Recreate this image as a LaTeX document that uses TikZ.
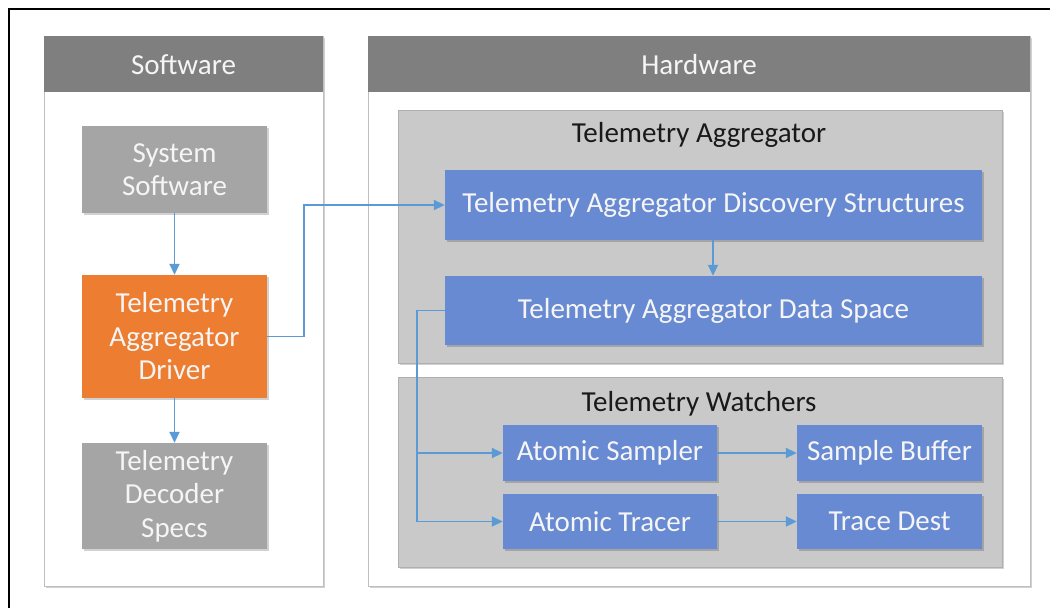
\documentclass[tikz,border=0pt]{standalone}
\usepackage{fontspec}
\setmainfont{Carlito}
\usetikzlibrary{arrows.meta,shadows,calc}
\definecolor{hdr}{RGB}{127,127,127}
\definecolor{pborder}{RGB}{191,191,191}
\definecolor{gbox}{RGB}{165,165,165}
\definecolor{obox}{RGB}{237,125,49}
\definecolor{cont}{RGB}{201,201,201}
\definecolor{contb}{RGB}{175,175,175}
\definecolor{bbox}{RGB}{104,138,210}
\definecolor{arrc}{RGB}{91,155,213}
\definecolor{boxtext}{RGB}{245,245,245}
\tikzset{
  shd/.style={drop shadow={shadow xshift=1.5pt,shadow yshift=-1.5pt,opacity=0.18,fill=black}},
  panel/.style={draw=pborder,fill=white,line width=0.8pt,shd},
  header/.style={fill=hdr},
  hdrtext/.style={text=boxtext,font=\fontsize{29}{33.5}\selectfont},
  conttext/.style={text=black!90,font=\fontsize{29}{33.5}\selectfont},
  container/.style={draw=contb,fill=cont,line width=0.6pt,shd},
  boxbase/.style={rectangle,inner sep=0pt,align=center,text=boxtext,font=\fontsize{29}{33.5}\selectfont,shd},
  graybox/.style={boxbase,fill=gbox},
  orangebox/.style={boxbase,fill=obox},
  bluebox/.style={boxbase,fill=bbox},
  conn/.style={draw=arrc,line width=1.8pt},
  arr/.style={conn,-{Triangle[length=11pt,width=10pt]}}
}
\begin{document}
\begin{tikzpicture}[x=1pt,y=-1pt]
\useasboundingbox[fill=white] (0,0) rectangle (1050,608);
% outer frame
\draw[line width=2pt,black] (1052,9) -- (9,9) -- (9,610);
% software panel
\path[panel] (44,36) rectangle (323,586);
\fill[header] (44,36) rectangle (323,92);
\node[hdrtext] (swtitle) at (183.5,65) {Software};
% hardware panel
\path[panel] (368,36) rectangle (1030,586);
\fill[header] (368,36) rectangle (1030,92);
\node[hdrtext] (hwtitle) at (699,65) {Hardware};
% containers
\path[container] (398,110) rectangle (1002,363);
\node[conttext] (aggtitle) at (699,135) {Telemetry Aggregator};
\path[container] (398,377) rectangle (1002,567);
\node[conttext] (wtitle) at (699,404) {Telemetry Watchers};
% software boxes
\node[graybox,minimum width=185pt,minimum height=87pt] (syssw) at (174.5,169.5) {System\\Software};
\node[orangebox,minimum width=185pt,minimum height=123pt] (driver) at (174.5,336.5) {Telemetry\\Aggregator\\Driver};
\node[graybox,minimum width=185pt,minimum height=106pt] (decoder) at (174.5,496) {Telemetry\\Decoder\\Specs};
% hardware boxes
\node[bluebox,minimum width=537pt,minimum height=70pt] (disc) at (713.5,205) {Telemetry Aggregator Discovery Structures};
\node[bluebox,minimum width=537pt,minimum height=69pt] (data) at (713.5,310.5) {Telemetry Aggregator Data Space};
\node[bluebox,minimum width=214pt,minimum height=56pt] (sampler) at (610,453) {Atomic Sampler};
\node[bluebox,minimum width=214pt,minimum height=55pt] (tracer) at (610,521.5) {Atomic Tracer};
\node[bluebox,minimum width=185pt,minimum height=56pt] (buffer) at (889.5,453) {Sample Buffer};
\node[bluebox,minimum width=185pt,minimum height=55pt] (dest) at (889.5,521.5) {Trace Dest};
% connectors
\draw[arr] (syssw) -- (driver);
\draw[arr] (driver) -- (decoder);
\draw[arr] (driver.east) -- ++(37,0) |- (disc.west);
\draw[arr] (disc.south -| 713,0) -- (data.north -| 713,0);
\draw[arr] (data.west) -- ++(-28,0) coordinate (j) |- (tracer.west);
\draw[arr] (j |- sampler.west) -- (sampler.west);
\draw[arr] (sampler) -- (buffer);
\draw[arr] (tracer) -- (dest);
\end{tikzpicture}
\end{document}
